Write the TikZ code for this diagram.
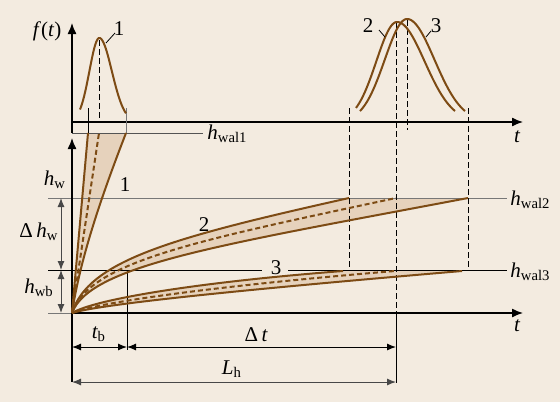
\documentclass[tikz,border=0pt]{standalone}
\usepackage{fontspec}
\setmainfont{Liberation Serif}
\usetikzlibrary{arrows.meta}
\definecolor{bg}{HTML}{F3EBE0}
\definecolor{brn}{RGB}{125,75,20}
\definecolor{bandc}{HTML}{E6D2BC}
\definecolor{gry}{HTML}{777777}
\begin{document}
\begin{tikzpicture}[x=0.5pt,y=-0.5pt,
  axis/.style={line width=0.65pt,-{Latex[length=5.5pt,width=4.5pt]}},
  thinl/.style={line width=0.5pt},
  dimarrow/.style={line width=0.5pt,{Latex[length=4.5pt,width=3.5pt]}-{Latex[length=4.5pt,width=3.5pt]}},
  guide/.style={line width=0.5pt,dash pattern=on 3pt off 1.5pt},
  bnd/.style={brn,line width=1pt},
  mid/.style={brn,line width=1pt,dash pattern=on 2.5pt off 1.5pt},
  lbl/.style={font=\fontsize{10.5}{12}\selectfont,inner sep=0pt},
  lead/.style={line width=0.4pt}]
\fill[bg] (0,0) rectangle (560,402);
\useasboundingbox (0,0) rectangle (560,402);
% key coordinates
\coordinate (O) at (72,313);
\coordinate (A1l) at (88,133);  \coordinate (A1r) at (126,133); \coordinate (A1m) at (99,133);
\coordinate (A2u) at (349,198); \coordinate (A2l) at (468,198); \coordinate (A2m) at (396,198);
\coordinate (A3u) at (343,271); \coordinate (A3l) at (462,271); \coordinate (A3m) at (395,271);
% band fills
\fill[bandc] (O) -- (A1l) -- (A1r) .. controls (100,200) and (80,260) .. (O);
\fill[bandc] (O) .. controls (88,260) and (175,237) .. (A2u) -- (A2l) .. controls (220,245) and (90,265) .. (O);
\fill[bandc] (O) .. controls (95,299) and (200,282) .. (A3u) -- (A3l) .. controls (250,289) and (100,304) .. (O);
% horizontal reference lines
\draw[gry,thinl] (48,198) coordinate (hwL) -- (507,198) coordinate (hwR);
\draw[thinl] (48,270) coordinate (hbL) -- (262,270) coordinate (hbM);
\draw[thinl] (288,270) coordinate (hbN) -- (507,270) coordinate (hbR);
\draw[gry,thinl] (48,313) coordinate (tL) -- (O);
\draw[gry!70!black,thinl] (72,133) coordinate (w1L) -- (203,133) coordinate (w1R);
% axes
\draw[axis] (72,133) coordinate (fB) -- (72,23) coordinate (fT);
\draw[axis] (72,122) coordinate (tuL) -- (523,122) coordinate (tuR);
\draw[axis] (72,382) coordinate (hB) -- (72,138) coordinate (hT);
\draw[axis] (O) -- (523,313) coordinate (tR);
% guide lines
\draw[thinl] (88,108) coordinate (g1a) -- (A1l);
\draw[gry,thinl] (126,108) coordinate (g1b) -- (A1r);
\draw[guide] (99.3,40) coordinate (p1) -- (99.3,122) coordinate (p1b);
\draw[guide] (349,108) coordinate (g2a) -- (349,270) coordinate (g2b);
\draw[guide] (468,108) coordinate (g3a) -- (468,270) coordinate (g3b);
\draw[guide] (407,20) coordinate (p3) -- (407,130) coordinate (p3b);
\draw[guide] (396,23) coordinate (p2) -- (396,313) coordinate (p2b);
\draw[thinl] (p2b) -- (396,383) coordinate (p2c);
\draw[thinl] (127,270) coordinate (tbT) -- (127,350) coordinate (tbB);
% distributions
\draw[bnd] plot[domain=80:99.3,samples=30] (\x,{122-84*exp(-((\x-99.3)^2)/195.4)})
  -- plot[domain=99.3:126,samples=30] (\x,{122-84*exp(-((\x-99.3)^2)/314.3)});
\draw[bnd] plot[domain=356:397,samples=40] (\x,{122-100*exp(-((\x-397)^2)/857)})
  -- plot[domain=397:455,samples=40] (\x,{122-100*exp(-((\x-397)^2)/1523.5)});
\draw[bnd] plot[domain=360:407,samples=40] (\x,{122-103*exp(-((\x-407)^2)/985.7)})
  -- plot[domain=407:465,samples=40] (\x,{122-103*exp(-((\x-407)^2)/1501.5)});
% band outlines
\draw[bnd] (O) -- (A1l);
\draw[bnd] (O) .. controls (80,260) and (100,200) .. (A1r);
\draw[mid] (O) -- (A1m);
\draw[bnd] (O) .. controls (88,260) and (175,237) .. (A2u);
\draw[bnd] (O) .. controls (90,265) and (220,245) .. (A2l);
\draw[mid] (O) .. controls (89,262) and (195,241) .. (A2m);
\draw[bnd] (O) .. controls (95,299) and (200,282) .. (A3u);
\draw[bnd] (O) .. controls (100,304) and (250,289) .. (A3l);
\draw[mid] (O) .. controls (98,302) and (225,285) .. (A3m);
% dimension arrows
\draw[dimarrow] (72,347) coordinate (d1a) -- (127,347) coordinate (d1b);
\draw[dimarrow] (d1b) -- (396,347) coordinate (d2b);
\draw[dimarrow,gry!60!black] (72,382) coordinate (d3a) -- (396,382) coordinate (d3b);
\draw[dimarrow,gry!60!black] (61,198) coordinate (v1a) -- (61,270) coordinate (v1b);
\draw[dimarrow,gry!60!black] (v1b) -- (61,313) coordinate (v2b);
% leader lines
\draw[lead] (106,43) coordinate (l1a) -- (115,33) coordinate (l1b);
\draw[lead] (379,30) coordinate (l2a) -- (385,37) coordinate (l2b);
\draw[lead] (426,37) coordinate (l3a) -- (431,31) coordinate (l3b);
% labels
\node[lbl] (ft) at (47,31) {\itshape f\/\upshape(\itshape t\/\upshape)};
\node[lbl] (n1) at (119,29) {1};
\node[lbl] (n2) at (368,26) {2};
\node[lbl] (n3) at (436,26) {3};
\node[lbl,anchor=base west] (hw1) at (207,139) {{\itshape h}\textsubscript{wal1}};
\node[lbl,anchor=base west] (hw2) at (510,205) {{\itshape h}\textsubscript{wal2}};
\node[lbl,anchor=base west] (hw3) at (510,277) {{\itshape h}\textsubscript{wal3}};
\node[lbl] (tu) at (517,137) {\itshape t};
\node[lbl] (tl) at (517,326) {\itshape t};
\node[lbl] (b1) at (125,185) {1};
\node[lbl] (b2) at (204,225) {2};
\node[lbl] (b3) at (276,268) {3};
\node[lbl] (hw) at (55,180) {{\itshape h}\textsubscript{w}};
\node[lbl] (dhw) at (39,232) {Δ\,{\itshape h}\textsubscript{w}};
\node[lbl] (hwb) at (39,288) {{\itshape h}\textsubscript{wb}};
\node[lbl] (tb) at (99,334) {{\itshape t}\textsubscript{b}};
\node[lbl] (dt) at (256,335) {Δ\,{\itshape t}};
\node[lbl] (lh) at (232,369) {{\itshape L}\textsubscript{h}};
\end{tikzpicture}
\end{document}
